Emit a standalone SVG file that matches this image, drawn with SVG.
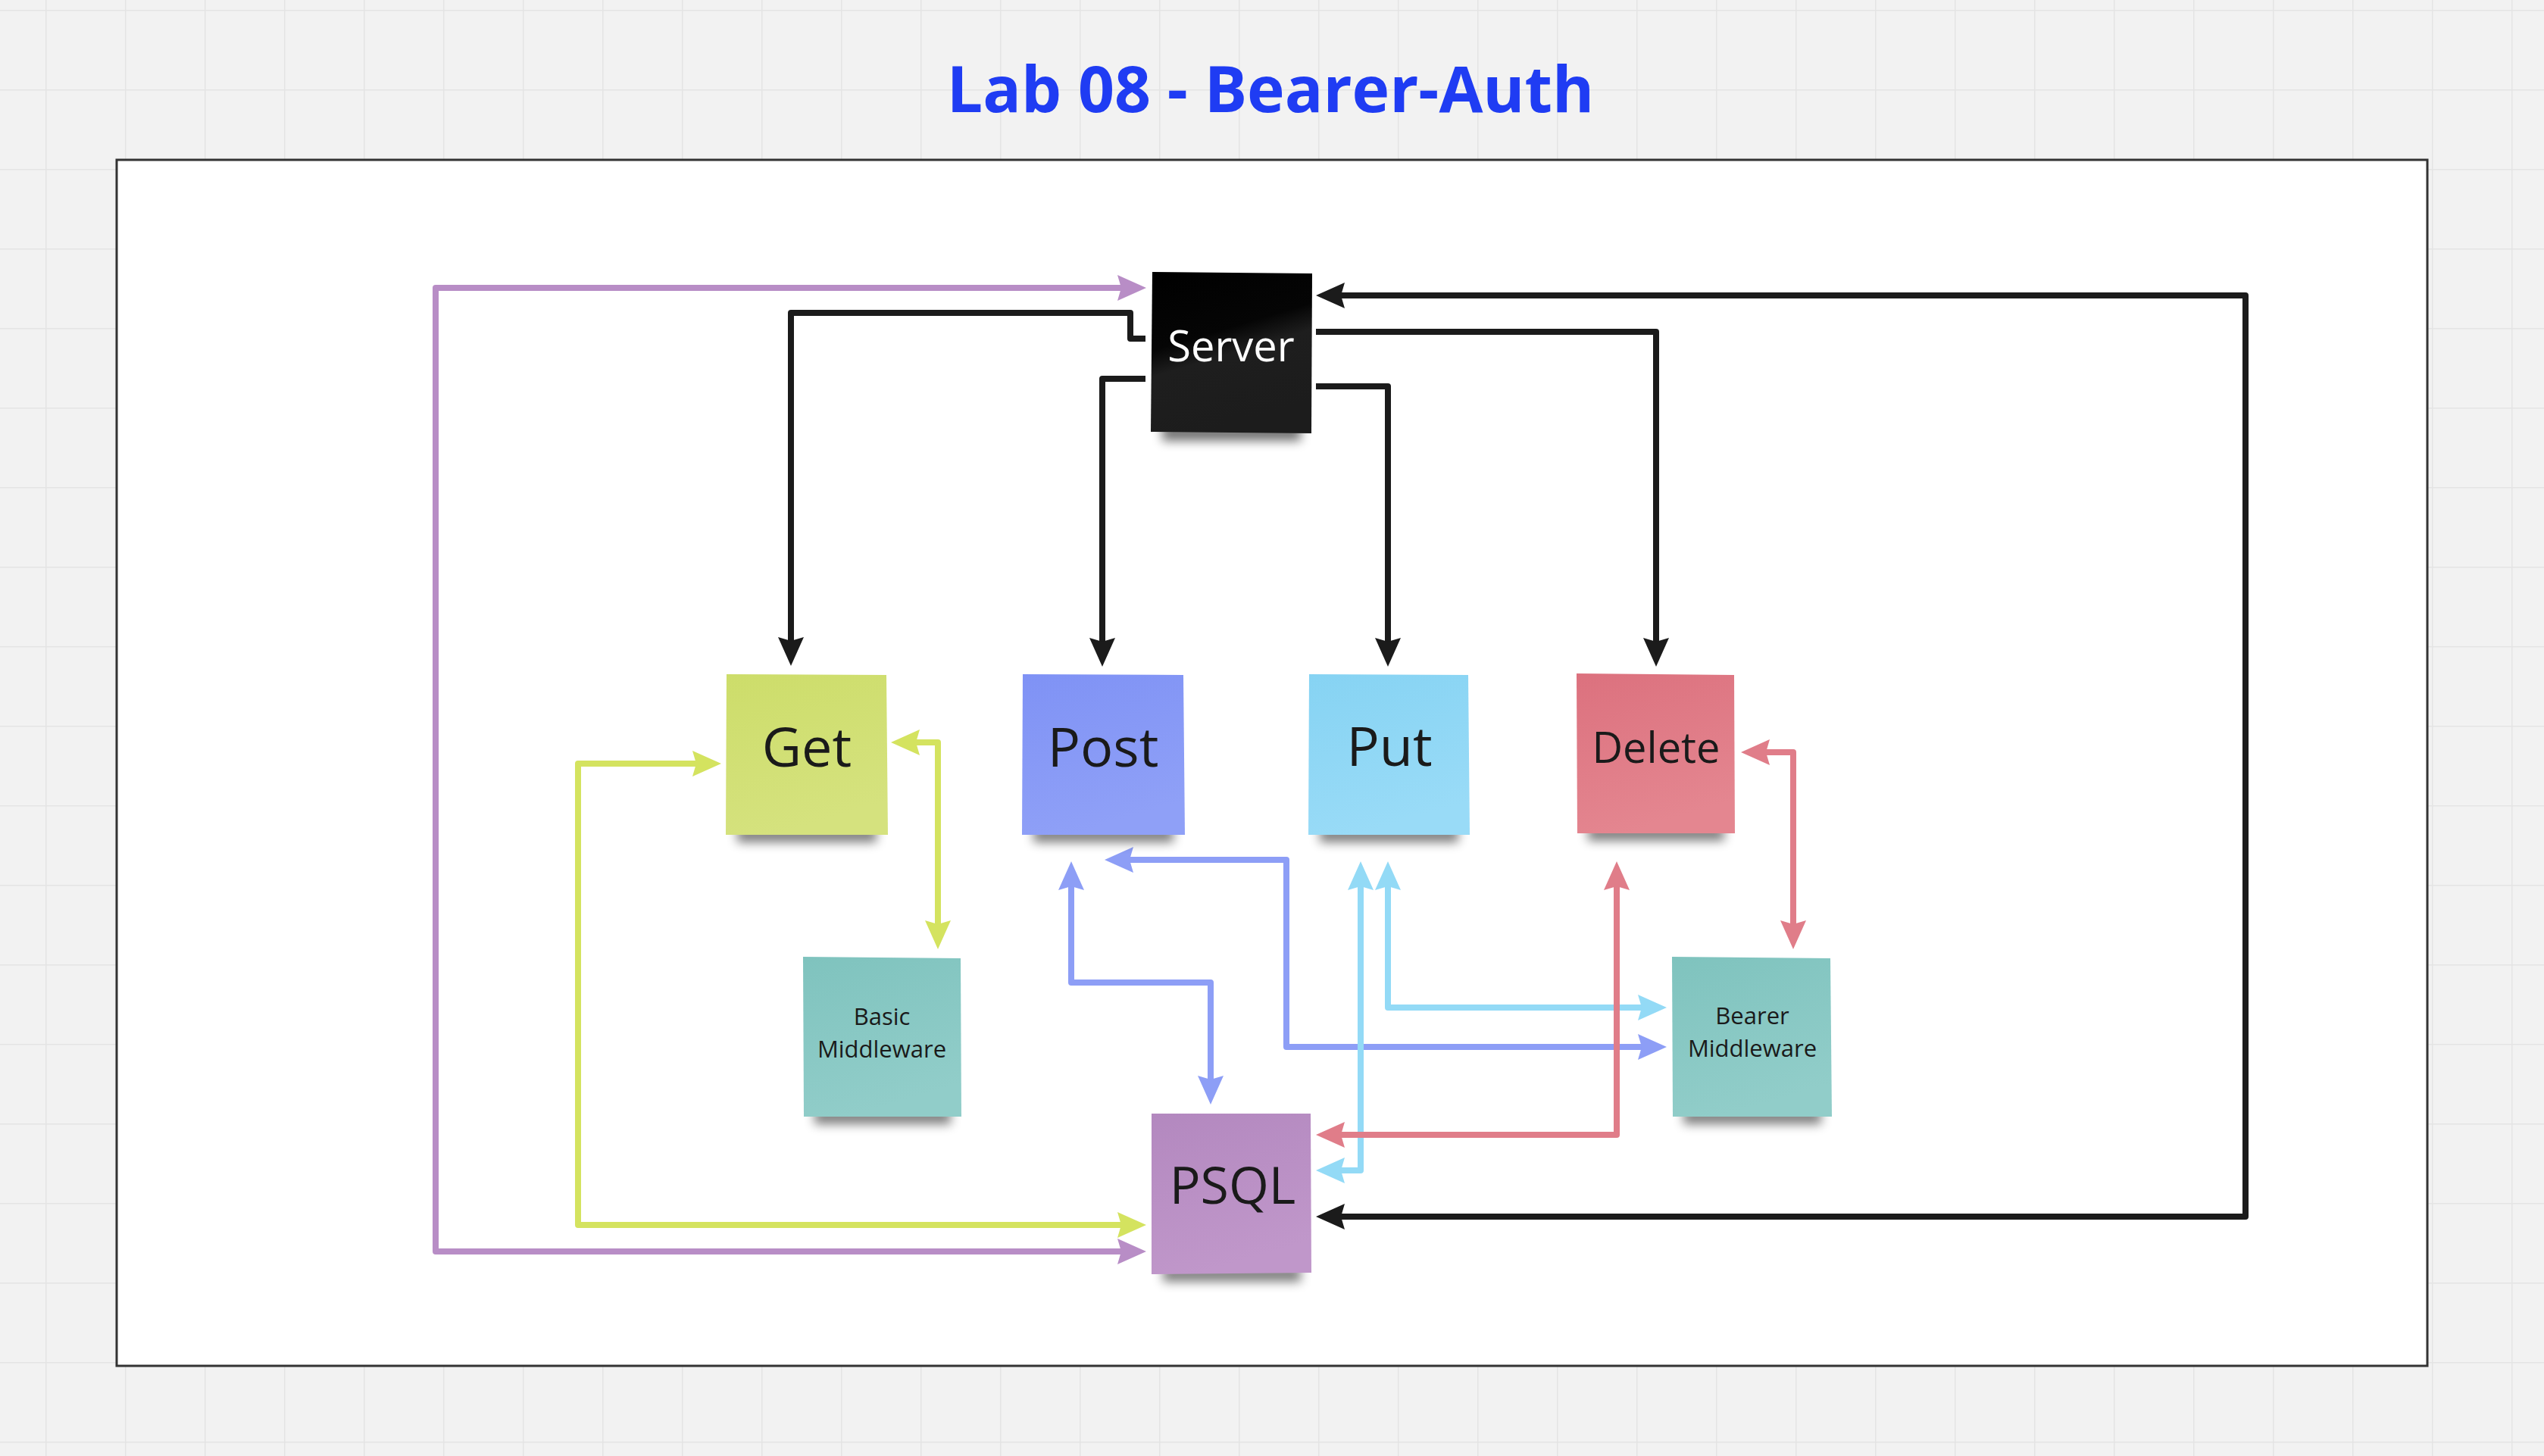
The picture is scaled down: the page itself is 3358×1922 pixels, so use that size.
<svg xmlns="http://www.w3.org/2000/svg" width="3358" height="1922" viewBox="0 0 3358 1922">
<style>
.note text{font-family:"Open Sans","Noto Sans",sans-serif;fill:#1a1a1a;text-anchor:middle}
.c{fill:none;stroke-width:8;stroke-linejoin:round}
.k{stroke:#1b1b1b}.p{stroke:#b88dc6}.g{stroke:#d4e35f}.b{stroke:#8d9ef6}.l{stroke:#93daf6}.r{stroke:#e07d89}
</style>
<defs>
<pattern id="grid" x="60" y="13" width="105" height="105" patternUnits="userSpaceOnUse">
<path d="M0,0 H105 M0,0 V105" stroke="#e4e4e4" stroke-width="3" fill="none"/>
</pattern>
<filter id="sh" x="-20%" y="-200%" width="140%" height="500%"><feGaussianBlur stdDeviation="7"/></filter>
<linearGradient id="gK" x1="0" y1="0" x2="0.3" y2="1"><stop offset="0" stop-color="#000"/><stop offset="0.45" stop-color="#050505"/><stop offset="0.6" stop-color="#1e1e1e"/><stop offset="1" stop-color="#1c1c1c"/></linearGradient>
<linearGradient id="gG" x1="0" y1="0" x2="0.3" y2="1"><stop offset="0" stop-color="#cddd6a"/><stop offset="1" stop-color="#d5e27e"/></linearGradient>
<linearGradient id="gB" x1="0" y1="0" x2="0.3" y2="1"><stop offset="0" stop-color="#7f92f5"/><stop offset="1" stop-color="#8fa0f7"/></linearGradient>
<linearGradient id="gL" x1="0" y1="0" x2="0.3" y2="1"><stop offset="0" stop-color="#86d3f3"/><stop offset="1" stop-color="#99dbf7"/></linearGradient>
<linearGradient id="gR" x1="0" y1="0" x2="0.3" y2="1"><stop offset="0" stop-color="#dc717e"/><stop offset="1" stop-color="#e48690"/></linearGradient>
<linearGradient id="gT" x1="0" y1="0" x2="0.3" y2="1"><stop offset="0" stop-color="#7fc3be"/><stop offset="1" stop-color="#91cdc9"/></linearGradient>
<linearGradient id="gP" x1="0" y1="0" x2="0.3" y2="1"><stop offset="0" stop-color="#b388bf"/><stop offset="1" stop-color="#c097ca"/></linearGradient>
<marker id="mk" viewBox="0 0 38 34" refX="18" refY="17" markerWidth="38" markerHeight="34" markerUnits="userSpaceOnUse" orient="auto-start-reverse"><path d="M0,0 L38,17 L0,34 L5,17 Z" fill="#1b1b1b"/></marker>
<marker id="mp" viewBox="0 0 38 34" refX="18" refY="17" markerWidth="38" markerHeight="34" markerUnits="userSpaceOnUse" orient="auto-start-reverse"><path d="M0,0 L38,17 L0,34 L5,17 Z" fill="#b88dc6"/></marker>
<marker id="mg" viewBox="0 0 38 34" refX="18" refY="17" markerWidth="38" markerHeight="34" markerUnits="userSpaceOnUse" orient="auto-start-reverse"><path d="M0,0 L38,17 L0,34 L5,17 Z" fill="#d4e35f"/></marker>
<marker id="mb" viewBox="0 0 38 34" refX="18" refY="17" markerWidth="38" markerHeight="34" markerUnits="userSpaceOnUse" orient="auto-start-reverse"><path d="M0,0 L38,17 L0,34 L5,17 Z" fill="#8d9ef6"/></marker>
<marker id="ml" viewBox="0 0 38 34" refX="18" refY="17" markerWidth="38" markerHeight="34" markerUnits="userSpaceOnUse" orient="auto-start-reverse"><path d="M0,0 L38,17 L0,34 L5,17 Z" fill="#93daf6"/></marker>
<marker id="mr" viewBox="0 0 38 34" refX="18" refY="17" markerWidth="38" markerHeight="34" markerUnits="userSpaceOnUse" orient="auto-start-reverse"><path d="M0,0 L38,17 L0,34 L5,17 Z" fill="#e07d89"/></marker>
</defs>
<rect width="3358" height="1922" fill="#f2f2f2"/>
<rect width="3358" height="1922" fill="url(#grid)"/>
<text x="1677" y="148" font-family="'Open Sans','Noto Sans',sans-serif" font-weight="700" font-size="84" fill="#1f3cf3" text-anchor="middle">Lab 08 - Bearer-Auth</text>
<rect id="frame" x="154" y="211" width="3050" height="1592" fill="#ffffff" stroke="#333333" stroke-width="3"/>

<g id="connectors">
<path class="c p" d="M1493,380 H575 V1652 H1493" marker-start="url(#mp)" marker-end="url(#mp)"/>
<path class="c k" d="M1512,447 H1492 V413 H1044 V859" marker-end="url(#mk)"/>
<path class="c k" d="M1512,500 H1455 V860" marker-end="url(#mk)"/>
<path class="c k" d="M1737,510 H1832 V860" marker-end="url(#mk)"/>
<path class="c k" d="M1737,438 H2186 V860" marker-end="url(#mk)"/>
<path class="c k" d="M1757,390 H2964 V1606 H1757" marker-start="url(#mk)" marker-end="url(#mk)"/>
<path class="c g" d="M932,1008 H763 V1617 H1493" marker-start="url(#mg)" marker-end="url(#mg)"/>
<path class="c g" d="M1196,980 H1238 V1233" marker-start="url(#mg)" marker-end="url(#mg)"/>
<path class="c b" d="M1414,1157 V1297 H1598 V1438" marker-start="url(#mb)" marker-end="url(#mb)"/>
<path class="c b" d="M1478,1135 H1698 V1382 H2180" marker-start="url(#mb)" marker-end="url(#mb)"/>
<path class="c l" d="M1796,1157 V1545 H1757" marker-start="url(#ml)" marker-end="url(#ml)"/>
<path class="c l" d="M1832,1157 V1330 H2180" marker-start="url(#ml)" marker-end="url(#ml)"/>
<path class="c r" d="M2134,1157 V1498 H1757" marker-start="url(#mr)" marker-end="url(#mr)"/>
<path class="c r" d="M2318,993 H2367 V1233" marker-start="url(#mr)" marker-end="url(#mr)"/>
</g>

<g id="server" class="note">
<rect x="1534" y="560" width="183" height="22" fill="#000" opacity="0.55" filter="url(#sh)"/>
<path d="M1521,359 L1732,361 L1731,572 L1519,570 Z" fill="url(#gK)"/>
<text x="1625" y="477" font-size="56" style="fill:#ffffff">Server</text>
</g>
<g id="get" class="note">
<rect x="973" y="1092" width="184" height="20" fill="#000" opacity="0.5" filter="url(#sh)"/>
<path d="M959,890 L1170,891 L1172,1102 L958,1102 Z" fill="url(#gG)"/>
<text x="1065" y="1012" font-size="72">Get</text>
</g>
<g id="post" class="note">
<rect x="1364" y="1092" width="185" height="20" fill="#000" opacity="0.5" filter="url(#sh)"/>
<path d="M1350,890 L1562,891 L1564,1102 L1349,1102 Z" fill="url(#gB)"/>
<text x="1456" y="1012" font-size="72">Post</text>
</g>
<g id="put" class="note">
<rect x="1742" y="1092" width="183" height="20" fill="#000" opacity="0.5" filter="url(#sh)"/>
<path d="M1728,890 L1938,891 L1940,1102 L1727,1102 Z" fill="url(#gL)"/>
<text x="1834" y="1011" font-size="72">Put</text>
</g>
<g id="delete" class="note">
<rect x="2096" y="1090" width="180" height="20" fill="#000" opacity="0.5" filter="url(#sh)"/>
<path d="M2081,889 L2289,891 L2290,1100 L2082,1100 Z" fill="url(#gR)"/>
<text x="2186" y="1007" font-size="56">Delete</text>
</g>
<g id="basic-middleware" class="note">
<rect x="1075" y="1464" width="180" height="20" fill="#000" opacity="0.5" filter="url(#sh)"/>
<path d="M1060,1263 L1268,1265 L1269,1474 L1061,1474 Z" fill="url(#gT)"/>
<text x="1164" y="1353" font-size="31">Basic</text>
<text x="1164" y="1396" font-size="31">Middleware</text>
</g>
<g id="bearer-middleware" class="note">
<rect x="2222" y="1464" width="182" height="20" fill="#000" opacity="0.5" filter="url(#sh)"/>
<path d="M2207,1263 L2416,1265 L2418,1474 L2208,1474 Z" fill="url(#gT)"/>
<text x="2313" y="1352" font-size="31">Bearer</text>
<text x="2313" y="1395" font-size="31">Middleware</text>
</g>
<g id="psql" class="note">
<rect x="1535" y="1672" width="182" height="20" fill="#000" opacity="0.5" filter="url(#sh)"/>
<path d="M1520,1470 L1730,1470 L1731,1680 L1520,1682 Z" fill="url(#gP)"/>
<text x="1627" y="1589" font-size="68">PSQL</text>
</g>
</svg>
